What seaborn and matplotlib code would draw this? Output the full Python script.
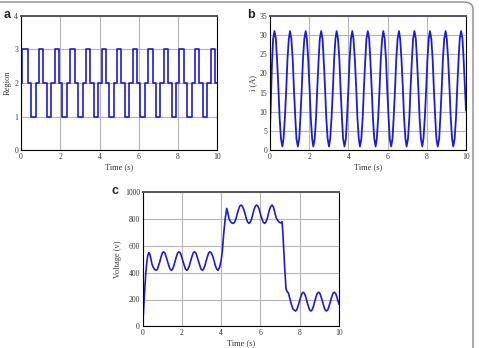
import numpy as np
import pandas as pd
import matplotlib
matplotlib.use("Agg")
import matplotlib.pyplot as plt
from matplotlib.patches import FancyBboxPatch
import seaborn as sns

# ---- data ----
# (a) switching region, levels held until the next change time
region_t = [0.00, 0.03, 0.34, 0.53, 0.76, 0.93, 1.14, 1.32, 1.55, 1.73, 1.94,
            2.11, 2.34, 2.52, 2.73, 2.91, 3.14, 3.31, 3.52, 3.70, 3.93, 4.11,
            4.32, 4.49, 4.72, 4.90, 5.11, 5.29, 5.52, 5.69, 5.90, 6.08, 6.31,
            6.49, 6.70, 6.87, 7.10, 7.28, 7.49, 7.67, 7.90, 8.07, 8.28, 8.46,
            8.69, 8.87, 9.08, 9.25, 9.48, 9.66, 9.87, 10.0]
region_val = [2, 3, 2, 1, 2, 3, 2, 1, 2, 3, 2,
              1, 2, 3, 2, 1, 2, 3, 2, 1, 2, 3,
              2, 1, 2, 3, 2, 1, 2, 3, 2, 1, 2,
              3, 2, 1, 2, 3, 2, 1, 2, 3, 2, 1,
              2, 3, 2, 1, 2, 3, 2, 2]

# (b) current
cur_t = [0.00, 0.04, 0.10, 0.16,
         0.23, 0.30, 0.36, 0.43, 0.49, 0.56, 0.63, 0.69, 0.76, 0.83, 0.89, 0.96,
         1.02, 1.09, 1.16, 1.22, 1.29, 1.35, 1.42, 1.49, 1.55, 1.62, 1.68, 1.75,
         1.82, 1.88, 1.95, 2.02, 2.08, 2.15, 2.21, 2.28, 2.35, 2.41, 2.48, 2.54,
         2.61, 2.68, 2.74, 2.81, 2.87, 2.94, 3.01, 3.07, 3.14, 3.21, 3.27, 3.34,
         3.40, 3.47, 3.54, 3.60, 3.67, 3.73, 3.80, 3.87, 3.93, 4.00, 4.06, 4.13,
         4.20, 4.26, 4.33, 4.40, 4.46, 4.53, 4.59, 4.66, 4.73, 4.79, 4.86, 4.92,
         4.99, 5.06, 5.12, 5.19, 5.25, 5.32, 5.39, 5.45, 5.52, 5.59, 5.65, 5.72,
         5.78, 5.85, 5.92, 5.98, 6.05, 6.11, 6.18, 6.25, 6.31, 6.38, 6.44, 6.51,
         6.58, 6.64, 6.71, 6.78, 6.84, 6.91, 6.97, 7.04, 7.11, 7.17, 7.24, 7.30,
         7.37, 7.44, 7.50, 7.57, 7.63, 7.70, 7.77, 7.83, 7.90, 7.97, 8.03, 8.10,
         8.16, 8.23, 8.30, 8.36, 8.43, 8.49, 8.56, 8.63, 8.69, 8.76, 8.82, 8.89,
         8.96, 9.02, 9.09, 9.16, 9.22, 9.29, 9.35, 9.42, 9.49, 9.55, 9.62, 9.68,
         9.75, 9.82, 9.88, 9.95, 10.0]
cur_i = [6, 12, 22.5, 29,
         31, 29, 23.5, 16, 8.5, 3, 1, 3, 8.5, 16, 23.5, 29,
         31, 29, 23.5, 16, 8.5, 3, 1, 3, 8.5, 16, 23.5, 29,
         31, 29, 23.5, 16, 8.5, 3, 1, 3, 8.5, 16, 23.5, 29,
         31, 29, 23.5, 16, 8.5, 3, 1, 3, 8.5, 16, 23.5, 29,
         31, 29, 23.5, 16, 8.5, 3, 1, 3, 8.5, 16, 23.5, 29,
         31, 29, 23.5, 16, 8.5, 3, 1, 3, 8.5, 16, 23.5, 29,
         31, 29, 23.5, 16, 8.5, 3, 1, 3, 8.5, 16, 23.5, 29,
         31, 29, 23.5, 16, 8.5, 3, 1, 3, 8.5, 16, 23.5, 29,
         31, 29, 23.5, 16, 8.5, 3, 1, 3, 8.5, 16, 23.5, 29,
         31, 29, 23.5, 16, 8.5, 3, 1, 3, 8.5, 16, 23.5, 29,
         31, 29, 23.5, 16, 8.5, 3, 1, 3, 8.5, 16, 23.5, 29,
         31, 29, 23.5, 16, 8.5, 3, 1, 3, 8.5, 16, 23.5, 29,
         31, 29, 23.5, 16, 10.3]

# (c) voltage
volt_t = [0.00, 0.04, 0.09, 0.15, 0.21, 0.26, 0.31,
          0.36, 0.41, 0.47, 0.53, 0.60, 0.69,
          0.75, 0.81, 0.88, 0.94, 1.00, 1.06,
          1.13, 1.19, 1.26, 1.33, 1.39, 1.46,
          1.52, 1.59, 1.65, 1.72, 1.78, 1.85,
          1.92, 1.98, 2.05, 2.12, 2.18, 2.25,
          2.31, 2.38, 2.44, 2.51, 2.57, 2.64,
          2.71, 2.77, 2.84, 2.91, 2.97, 3.04,
          3.10, 3.17, 3.23, 3.30, 3.36, 3.43,
          3.50, 3.57, 3.64, 3.70, 3.77, 3.84,
          3.92, 4.00, 4.06, 4.12, 4.20, 4.28,
          4.34, 4.40, 4.48, 4.55, 4.62,
          4.68, 4.75, 4.81, 4.88, 4.94, 5.01,
          5.08, 5.15, 5.22, 5.28, 5.35, 5.42,
          5.48, 5.55, 5.61, 5.67, 5.74, 5.80,
          5.87, 5.94, 6.00, 6.07, 6.14, 6.21,
          6.27, 6.34, 6.40, 6.46, 6.53, 6.59,
          6.66, 6.73, 6.80, 6.88, 6.96, 7.03, 7.10,
          7.14, 7.19, 7.24, 7.30, 7.36, 7.42,
          7.50, 7.58, 7.66, 7.78,
          7.85, 7.91, 7.98, 8.05, 8.11, 8.18,
          8.24, 8.31, 8.37, 8.44, 8.50, 8.57,
          8.63, 8.70, 8.76, 8.83, 8.89, 8.96,
          9.03, 9.09, 9.16, 9.23, 9.29, 9.36,
          9.43, 9.49, 9.56, 9.63, 9.69, 9.76,
          9.83, 9.89, 9.96, 10.0]
volt_v = [0, 110, 240, 380, 480, 530, 550,
          540, 510, 465, 443, 425, 418,
          427, 453, 487, 521, 547, 556,
          547, 521, 487, 453, 427, 418,
          427, 453, 487, 521, 547, 556,
          547, 521, 487, 453, 427, 418,
          427, 453, 487, 521, 547, 556,
          547, 521, 487, 453, 427, 418,
          427, 453, 487, 521, 547, 556,
          547, 521, 487, 453, 427, 418,
          440, 495, 565, 680, 800, 880,
          845, 800, 780, 770, 768,
          777, 802, 837, 871, 896, 905,
          896, 871, 837, 802, 777, 768,
          777, 802, 837, 871, 896, 905,
          896, 871, 837, 802, 777, 768,
          777, 802, 837, 871, 896, 905,
          890, 850, 810, 790, 776, 772, 780,
          700, 560, 420, 280, 258, 250,
          205, 160, 128, 114,
          123, 149, 184, 219, 245, 254,
          245, 219, 184, 149, 123, 114,
          123, 149, 184, 219, 245, 254,
          245, 219, 184, 149, 123, 114,
          123, 149, 184, 219, 245, 254,
          245, 219, 184, 165]

sns.set_theme(style="whitegrid")
plt.rcParams['font.family'] = ['Liberation Serif', 'DejaVu Serif']
plt.rcParams['axes.edgecolor'] = 'black'
plt.rcParams['grid.color'] = '#b4b4b4'
plt.rcParams['grid.linewidth'] = 0.8

W, H = 479, 348
fig = plt.figure(figsize=(W / 100, H / 100), dpi=100)

def box(l, t, r, b):
    return [l / W, 1 - b / H, (r - l) / W, (b - t) / H]

ax_a = fig.add_axes(box(21, 15.7, 217.3, 150.3))
ax_b = fig.add_axes(box(270, 15.7, 466, 150.3))
ax_c = fig.add_axes(box(142.7, 192.3, 339, 326.3))

blue = '#1a1ae0'
sns.lineplot(x=region_t, y=region_val, ax=ax_a, color=blue, lw=1.2,
             drawstyle='steps-post', estimator=None, sort=False)
sns.lineplot(x=cur_t, y=cur_i, ax=ax_b, color=blue, lw=1.3,
             estimator=None, sort=False)
sns.lineplot(x=volt_t, y=volt_v, ax=ax_c, color=blue, lw=1.2,
             estimator=None, sort=False)

def style(ax, ylim, yticks, ylabel):
    ax.set_facecolor('white')
    ax.set_xlim(0, 10)
    ax.set_ylim(*ylim)
    ax.set_xticks([0, 2, 4, 6, 8, 10])
    ax.set_yticks(yticks)
    ax.set_xlabel('Time (s)', fontsize=6, color='#333333', labelpad=1.5)
    ax.set_ylabel(ylabel, fontsize=6, color='#333333', labelpad=2)
    ax.tick_params(axis='both', labelsize=5.5, colors='#333333', length=2,
                   width=0.6, direction='in', pad=2)
    ax.tick_params(axis='both', color='black')
    ax.grid(True)
    for s in ax.spines.values():
        s.set_color('black')
        s.set_linewidth(0.8)
    ax.spines['top'].set_color('#555555')
    ax.spines['top'].set_linewidth(1.4)

style(ax_a, (0, 4), [0, 1, 2, 3, 4], 'Region')
style(ax_b, (0, 35), [0, 5, 10, 15, 20, 25, 30, 35], 'i (A)')
style(ax_c, (0, 1000), [0, 200, 400, 600, 800, 1000], 'Voltage (v)')

for lab, x, y in [('a', 4, 9), ('b', 247, 9), ('c', 111, 185)]:
    fig.text(x / W, 1 - y / H, lab, fontsize=9, fontweight='bold',
             family='Liberation Sans', ha='left', va='top')

# outer rounded frame of the figure
frame = FancyBboxPatch((-20 / W, -20 / H), (473 + 20) / W, (H - 2 + 20) / H,
                       boxstyle='round,pad=0,rounding_size=0.02',
                       transform=fig.transFigure, fill=False,
                       edgecolor='#8a8a8a', lw=1.0, clip_on=False)
fig.patches.append(frame)

fig.savefig('out.png', dpi=100)
